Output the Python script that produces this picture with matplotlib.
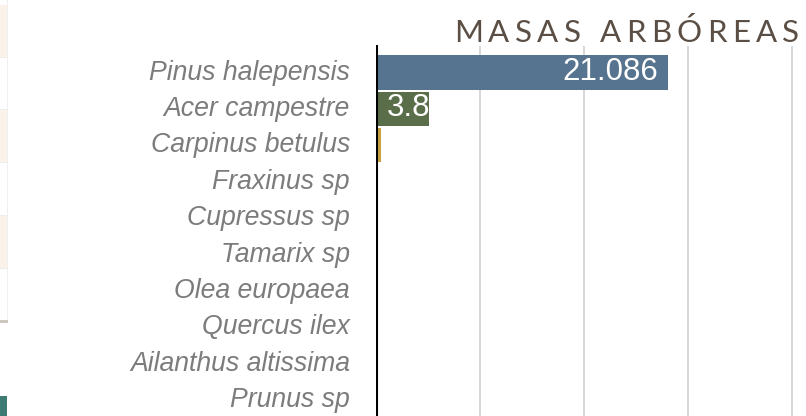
import matplotlib
matplotlib.use("Agg")
import matplotlib.pyplot as plt
from matplotlib.patches import Rectangle
import matplotlib.transforms as mtransforms

species = ["Pinus halepensis", "Acer campestre", "Carpinus betulus", "Fraxinus sp",
           "Cupressus sp", "Tamarix sp", "Olea europaea", "Quercus ilex",
           "Ailanthus altissima", "Prunus sp"]
values = [21.086, 3.8, 0.35, 0, 0, 0, 0, 0, 0, 0]
value_labels = ["21.086", "3.8", "0.35", "0", "0", "0", "0", "0", "0", "0"]
colors = ["#56748f", "#5a6e4a", "#c9a23e", "#8a6d8c", "#b5654f", "#6f8fa8",
          "#7f9a5c", "#a0855b", "#4e8a84", "#9b9b6b"]
grid_ticks = [7.5, 15, 22.5, 30]
title = "MASAS ARBÓREAS"

W, H = 806, 416
fig = plt.figure(figsize=(W / 100, H / 100), dpi=100)
fig.patch.set_facecolor("white")

# left-edge decorations (partial neighbouring panel)
def px_rect(x0, y0, x1, y1, color, z=0):
    fig.patches.append(Rectangle((x0 / W, 1 - y1 / H), (x1 - x0) / W, (y1 - y0) / H,
                                 transform=fig.transFigure, facecolor=color,
                                 edgecolor="none", zorder=z))

for (a, b) in [(5, 57), (110, 162), (215, 268)]:
    px_rect(0, a, 7, b, "#fbf3ea")
for yy in [57, 109, 162, 215, 268]:
    px_rect(0, yy - 0.5, 7, yy + 0.5, "#eeeeee")
px_rect(7, 0, 8, 320, "#efefef")
px_rect(0, 320, 8, 323, "#cdc6bc")
px_rect(0, 396, 7, 416, "#3e7a74")

# axes geometry
left_px, top_px = 376, 45
ax = fig.add_axes([left_px / W, 0, 1 - left_px / W, 1 - top_px / H])
ax.set_facecolor("none")
px_per_unit = 13.85
ax.set_xlim(0, (W - left_px) / px_per_unit)
step = 36.4
row0 = 72.5
ax.set_ylim((H - row0) / step, -(row0 - top_px) / step)

for s in ax.spines.values():
    s.set_visible(False)
ax.set_xticks([])
ax.set_yticks([])

for g in grid_ticks:
    ax.axvline(g, color="#d3d3d3", lw=1.3, ymax=0.995, zorder=0)

bars = ax.barh(range(len(species)), values, height=0.94, color=colors, zorder=2)
ax.axvline(0, color="#000000", lw=2.2, zorder=4)

# category labels
for i, name in enumerate(species):
    ax.text(-26 / px_per_unit, i, name, ha="right", va="center", fontsize=19.2,
            style="italic", color="#7c7c7c", family="Liberation Sans", clip_on=False)

# value labels inside bars (clipped to the bar)
fig.canvas.draw()
renderer = fig.canvas.get_renderer()
for i, (v, lab, bar) in enumerate(zip(values, value_labels, bars)):
    t = ax.text(v, i, lab, ha="right", va="center", fontsize=22.5,
                color="white", family="Liberation Sans", zorder=5)
    off = mtransforms.offset_copy(ax.transData, fig=fig, x=-10, y=1, units="dots")
    t.set_transform(off)
    bb = t.get_window_extent(renderer)
    if v * px_per_unit < bb.width + 22:
        t.set_ha("left")
        t.set_x(0)
        t.set_transform(mtransforms.offset_copy(ax.transData, fig=fig, x=11, y=1, units="dots"))
    t.set_clip_path(bar)

# title with letter spacing
tx0, tx1, ty_base = 454, 799, 42
fs_title = 22.5
chars = list(title)
widths = []
for c in chars:
    tt = fig.text(0, 0, c if c != " " else "M", fontsize=fs_title, family="Lato",
                  fontweight="normal", color="#5b4f45")
    w = tt.get_window_extent(renderer).width
    if c == " ":
        w *= 0.3
    widths.append(w)
    tt.remove()
total_nat = sum(widths)
gap = (tx1 - tx0 - total_nat) / (len(chars) - 1)
x = tx0
for c, w in zip(chars, widths):
    if c != " ":
        fig.text(x / W, 1 - ty_base / H, c, fontsize=fs_title, family="Lato",
                 fontweight="normal", color="#5b4f45", va="baseline", ha="left")
    x += w + gap

fig.savefig("out.png", dpi=100)
